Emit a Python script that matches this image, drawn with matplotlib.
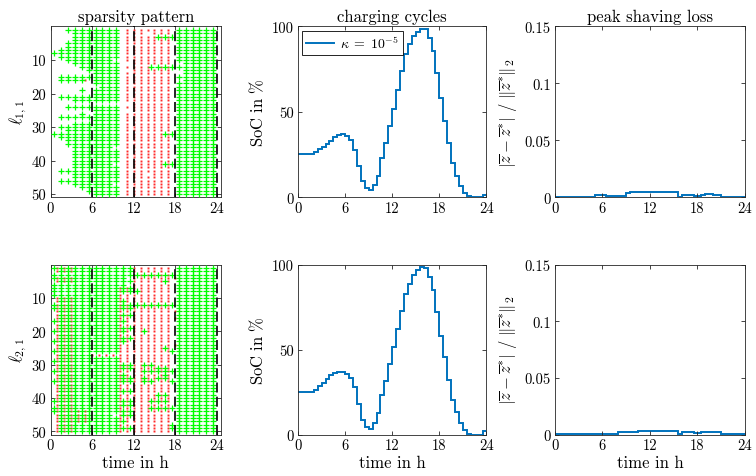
import numpy as np
import matplotlib
matplotlib.use("Agg")
import matplotlib.pyplot as plt

plt.rcParams.update({
    "font.family": "cmr10",
    "mathtext.fontset": "cm",
    "axes.unicode_minus": False,
    "axes.formatter.use_mathtext": True,
})

# ---------------------------------------------------------------- data
# half-hour grid edges for the stair plots
time_edges = np.arange(0, 24.5, 0.5)
hour_ticks = [0, 6, 12, 18, 24]

# state of charge in % (value held over each half hour)
soc_11 = [25.2, 25.2, 25.2, 25.5, 26.5, 28.3, 29.8, 31.5, 33.3, 35.3, 36.8, 37.0,
          35.8, 33.5, 28.0, 18.5, 9.5, 5.5, 4.2, 7.5, 12.5, 23.0, 32.0, 42.0,
          52.0, 63.0, 74.0, 84.0, 89.5, 94.5, 96.8, 98.8, 98.3, 93.5, 85.6, 72.7,
          58.0, 45.0, 32.0, 20.0, 12.5, 6.5, 2.6, 0.6, 0.0, 0.0, 0.0, 1.6]
soc_21 = [25.0, 25.0, 24.8, 25.2, 26.5, 28.8, 30.5, 32.5, 34.8, 36.2, 37.0, 37.0,
          35.5, 33.5, 28.0, 18.0, 8.5, 4.5, 3.0, 7.0, 12.5, 23.0, 31.5, 41.5,
          51.5, 62.0, 72.5, 82.5, 88.5, 94.0, 97.0, 98.5, 98.0, 92.5, 85.0, 72.0,
          58.0, 45.5, 32.0, 20.5, 13.0, 6.5, 2.5, 0.5, 0.0, 0.0, 0.0, 2.0]

# relative peak shaving loss (value held over each half hour)
loss_11 = [0.0006, 0.0006, 0.0006, 0.0005, 0.0005, 0.0005, 0.0004, 0.0004,
           0.0002, 0.0002, 0.0024, 0.0024, 0.0022, 0.0016, 0.0016, 0.0009,
           0.0009, 0.0010, 0.0042, 0.0044, 0.0046, 0.0047, 0.0048, 0.0049,
           0.0050, 0.0050, 0.0050, 0.0050, 0.0050, 0.0049, 0.0049, 0.0002,
           0.0024, 0.0024, 0.0023, 0.0012, 0.0012, 0.0026, 0.0027, 0.0027,
           0.0026, 0.0026, 0.0002, 0.0001, 0.0001, 0.0001, 0.0008, 0.0004]
loss_21 = [0.0001, 0.0001, 0.0001, 0.0001, 0.0001, 0.0001, 0.0001, 0.0001,
           0.0001, 0.0001, 0.0001, 0.0001, 0.0001, 0.0001, 0.0001, 0.0008,
           0.0025, 0.0025, 0.0020, 0.0020, 0.0020, 0.0030, 0.0030, 0.0030,
           0.0035, 0.0035, 0.0035, 0.0035, 0.0035, 0.0033, 0.0033, 0.0005,
           0.0020, 0.0020, 0.0020, 0.0015, 0.0015, 0.0025, 0.0025, 0.0025,
           0.0025, 0.0025, 0.0001, 0.0001, 0.0001, 0.0001, 0.0001, 0.0001]

# sparsity patterns, one string per row of l (rows 1..50), one character
# per hour, grouped as hours 0-9 | 10-17 | 18-23.
# green '+' entries sit at hour + 0.5, red '.' entries at the full hour.
green_11 = [
    "..########|........|######",
    "...#######|........|######",
    "...#######|.....###|######",
    "...#######|........|######",
    "..########|........|######",
    "..########|........|######",
    ".#########|........|######",
    "##########|........|######",
    ".#########|........|######",
    "..#######.|........|######",
    "...#######|........|.#####",
    "....######|....####|######",
    ".....#####|........|.#####",
    "......####|........|.#####",
    ".#########|........|######",
    ".####.####|........|.#####",
    "......####|........|######",
    ".......###|........|######",
    "....#.####|........|######",
    "......####|........|######",
    ".#########|........|######",
    "...#######|........|######",
    "..........|........|######",
    "..########|........|######",
    "......####|........|######",
    "....#.####|........|######",
    ".#########|........|######",
    "......####|........|######",
    "...#######|........|######",
    ".#########|........|######",
    "..########|........|######",
    "##########|......##|######",
    ".#########|........|######",
    "..########|........|######",
    "..########|........|######",
    "...######.|........|######",
    "...#######|........|######",
    "...#######|........|######",
    "...#######|........|######",
    "...#######|........|######",
    "...######.|......##|######",
    "...#######|........|######",
    ".#########|........|######",
    "...#######|........|######",
    "...#######|........|######",
    ".#########|........|######",
    "...######.|........|######",
    "....######|........|######",
    ".....#####|........|######",
    "......####|........|######",
]
red_11 = [
    "..........|.#######|......",
    "..........|.###.###|......",
    "..........|.#######|......",
    "..........|.#######|......",
    "..........|.#######|......",
    "..........|.#######|......",
    "..........|.#######|......",
    "..........|.#######|......",
    "..........|.#######|......",
    "..........|.#######|......",
    "..........|..######|......",
    "..........|.####.##|......",
    "..........|..######|......",
    "..........|.#######|......",
    "..........|.#######|......",
    ".....#....|.#######|......",
    "..........|.#######|......",
    "..........|.#######|......",
    "..........|.#######|......",
    "..........|.#######|......",
    "..........|.#######|......",
    "..........|.#######|......",
    "..........|..######|......",
    "..........|.#######|......",
    "..........|..######|......",
    "..........|.#######|......",
    "..........|.#######|......",
    "..........|.#######|......",
    "..........|.#######|......",
    "..........|.#######|......",
    "..........|.#######|......",
    "..........|.#######|......",
    "..........|.#######|......",
    "..........|.#######|......",
    "..........|.#######|......",
    "..........|.#######|......",
    "..........|.#######|......",
    "..........|.#######|......",
    "..........|.#######|......",
    "..........|.#######|......",
    "..........|.#######|......",
    "..........|.#######|......",
    "..........|.#######|......",
    "..........|.###.###|......",
    "..........|.#######|......",
    "..........|.#######|......",
    "..........|.#######|......",
    "..........|.#######|......",
    "..........|.#######|......",
    "..........|.#######|......",
]
green_21 = [
    "##########|##......|######",
    ".#########|##......|######",
    "##########|########|######",
    "##########|#.......|######",
    ".#########|##....#.|######",
    "##########|#.......|######",
    "##########|##......|######",
    "##########|###.....|######",
    "##########|........|######",
    ".#########|........|######",
    ".#########|#.......|######",
    "##########|########|######",
    "##########|##......|######",
    ".#########|........|######",
    ".#########|##......|######",
    ".#########|........|######",
    "##########|#.......|######",
    ".#########|........|######",
    ".#########|##......|######",
    "##########|#..#....|######",
    ".#########|........|######",
    ".#########|##......|######",
    "##########|#.......|######",
    ".#########|........|######",
    ".#########|......#.|######",
    "##########|.......#|######",
    ".#####....|........|######",
    ".#########|........|######",
    "##########|........|######",
    ".#########|##.##...|######",
    ".#########|##...##.|######",
    "##########|...#####|######",
    ".#########|#.....#.|######",
    ".#########|##.#.##.|######",
    "##########|##.##..#|######",
    ".#########|........|######",
    ".#########|........|######",
    ".#########|##......|######",
    ".#########|.....##.|######",
    ".#########|........|######",
    "##########|##..###.|######",
    ".#########|##......|######",
    "##########|....####|######",
    "##########|##......|######",
    ".########.|##......|######",
    ".#########|........|######",
    ".#########|#.......|######",
    ".#########|.......#|######",
    ".#########|##.....#|######",
    ".#########|........|######",
]
red_21 = [
    ".###......|..######|......",
    ".###......|..######|......",
    "..........|..######|......",
    ".###......|..######|#.....",
    ".###......|..######|......",
    "..........|..######|......",
    "..........|########|......",
    "..........|########|......",
    "..........|########|......",
    ".###......|########|......",
    ".###......|########|......",
    ".###......|########|......",
    ".###......|########|......",
    ".###......|########|#.....",
    ".###......|########|......",
    ".###......|########|#.....",
    ".###......|########|......",
    ".###......|########|......",
    ".###......|########|......",
    ".###......|########|......",
    ".###......|########|......",
    ".###......|########|......",
    ".###......|########|......",
    ".###......|########|#.....",
    ".###......|########|......",
    ".###......|########|......",
    ".###..####|########|......",
    ".###......|########|......",
    ".###......|########|......",
    ".###......|########|......",
    ".###......|########|......",
    ".###......|########|......",
    ".###......|########|......",
    ".###......|########|......",
    ".###......|########|......",
    ".###......|########|......",
    ".###......|########|......",
    ".###......|########|......",
    ".###......|########|......",
    ".###......|########|......",
    ".###......|########|......",
    ".###......|########|......",
    ".###......|########|......",
    ".#####....|########|......",
    ".#####....|########|......",
    ".#####....|########|......",
    ".#####....|########|......",
    ".###......|########|......",
    ".###......|########|......",
    ".###......|########|......",
]

# ---------------------------------------------------------------- style
LINE_BLUE = "#0072BD"
AX_COLOR = "#262626"
GREEN = "#00ff00"
RED = "#ff2a2a"

fig = plt.figure(figsize=(7.56, 4.77), dpi=100)

row_bottom = [0.5839, 0.0870]
row_height = [0.3585, 0.3560]
col_left = [0.0668, 0.3942, 0.7341]
col_width = [0.2255, 0.2493, 0.2513]


def make_axes(r, c):
    ax = fig.add_axes([col_left[c], row_bottom[r], col_width[c], row_height[r]])
    for s in ax.spines.values():
        s.set_color(AX_COLOR)
        s.set_linewidth(0.6)
    ax.tick_params(direction="in", length=3, width=0.6, color=AX_COLOR,
                   top=True, right=True, labelsize=10.5, pad=3)
    ax.set_xticks(hour_ticks)
    ax.set_xticklabels([str(h) for h in hour_ticks])
    return ax


def pattern_points(rows, offset):
    xs, ys = [], []
    for r, row in enumerate(rows, start=1):
        for k, ch in enumerate(row.replace("|", "")):
            if ch == "#":
                xs.append(k + offset)
                ys.append(r)
    return xs, ys


def draw_sparsity(ax, green_rows, red_rows, ylabel):
    rx, ry = pattern_points(red_rows, 0.0)
    gx, gy = pattern_points(green_rows, 0.5)
    ax.plot(rx, ry, ls="none", marker="s", ms=1.4, mew=0, color=RED, zorder=2)
    ax.plot(gx, gy, ls="none", marker="+", ms=4.2, mew=0.9, color=GREEN, zorder=3)
    for h in hour_ticks[1:]:
        ax.axvline(h, color="black", ls=(0, (6, 2.5)), lw=1.2, zorder=4)
    ax.set_xlim(0, 24.6)
    ax.set_ylim(51, 0)
    ax.set_yticks([10, 20, 30, 40, 50])
    ax.set_yticklabels(["10", "20", "30", "40", "50"])
    ax.set_ylabel(ylabel, fontsize=12, labelpad=2)


def draw_soc(ax, soc, legend=False):
    ax.stairs(soc, time_edges, color=LINE_BLUE, lw=1.4, baseline=None,
              label=r"$\kappa \;=\; 10^{-5}$")
    ax.set_xlim(0, 24)
    ax.set_ylim(0, 100)
    ax.set_yticks([0, 50, 100])
    ax.set_yticklabels(["0", "50", "100"])
    ax.set_ylabel(r"$\mathrm{SoC\ in\ \%}$", fontsize=12, labelpad=4)
    if legend:
        leg = ax.legend(loc="upper left", fontsize=10, frameon=True,
                        fancybox=False, edgecolor="black", framealpha=1,
                        handlelength=2.0, borderaxespad=0.3,
                        borderpad=0.3, handletextpad=0.4)
        leg.get_frame().set_linewidth(0.6)


def draw_loss(ax, loss):
    ax.stairs(loss, time_edges, color=LINE_BLUE, lw=1.4, baseline=None)
    ax.set_xlim(0, 24)
    ax.set_ylim(0, 0.15)
    ax.set_yticks([0, 0.05, 0.1, 0.15])
    ax.set_yticklabels(["0", "0.05", "0.1", "0.15"])
    ax.set_ylabel(r"$|\overline{z}-\overline{z}^{*}|\ /\ \|\overline{z}^{*}\|_2$",
                  fontsize=12, labelpad=4)


axes = [[make_axes(r, c) for c in range(3)] for r in range(2)]

draw_sparsity(axes[0][0], green_11, red_11, r"$\ell_{1,1}$")
draw_sparsity(axes[1][0], green_21, red_21, r"$\ell_{2,1}$")
draw_soc(axes[0][1], soc_11, legend=True)
draw_soc(axes[1][1], soc_21)
draw_loss(axes[0][2], loss_11)
draw_loss(axes[1][2], loss_21)

titles = ["sparsity pattern", "charging cycles", "peak shaving loss"]
for c, t in enumerate(titles):
    axes[0][c].set_title(t, fontsize=12, pad=4)
for c in range(3):
    axes[1][c].set_xlabel("time in h", fontsize=12, labelpad=2)

fig.savefig("out.png", dpi=100)
